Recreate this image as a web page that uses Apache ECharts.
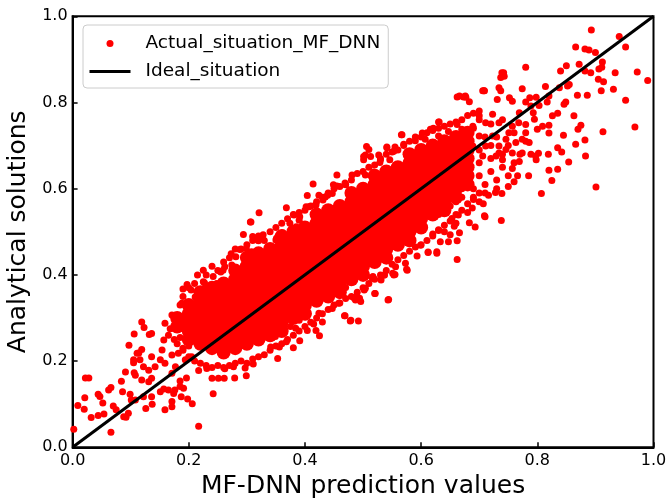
<!DOCTYPE html>
<html><head><meta charset="utf-8">
<script src="https://cdn.jsdelivr.net/npm/echarts@6/dist/echarts.min.js"></script>
<style>html,body{margin:0;padding:0;background:#fff}#c{width:668px;height:500px}</style>
</head><body><div id="c"></div>
<script>
// ---- data ----
const tickValues = [0.0, 0.2, 0.4, 0.6, 0.8, 1.0];
const idealX = [0, 1];
const idealY = [0, 1];

// densest (solid) part of the cloud, column x -> y values
const denseX = [0.18,0.20,0.22,0.24,0.26,0.28,0.30,0.32,0.34,0.36,0.38,0.40,0.42,0.44,0.46,0.48,0.50,0.52,0.54,0.56,0.58,0.60,0.62,0.64,0.66,0.68];
const denseY = [
 [0.28,0.30],
 [0.25,0.27,0.29,0.31,0.33],
 [0.24,0.26,0.28,0.30,0.32,0.34,0.36],
 [0.23,0.25,0.27,0.29,0.31,0.33,0.35,0.37],
 [0.22,0.24,0.26,0.28,0.30,0.32,0.34,0.36,0.38],
 [0.23,0.25,0.27,0.29,0.31,0.33,0.35,0.37,0.39,0.41],
 [0.24,0.26,0.28,0.30,0.32,0.34,0.36,0.38,0.40,0.42,0.44],
 [0.25,0.27,0.29,0.31,0.33,0.35,0.37,0.39,0.41,0.43,0.45],
 [0.26,0.28,0.30,0.32,0.34,0.36,0.38,0.40,0.42,0.44,0.46],
 [0.27,0.29,0.31,0.33,0.35,0.37,0.39,0.41,0.43,0.45,0.47,0.49],
 [0.30,0.32,0.34,0.36,0.38,0.40,0.42,0.44,0.46,0.48,0.50],
 [0.31,0.33,0.35,0.37,0.39,0.41,0.43,0.45,0.47,0.49,0.51],
 [0.34,0.36,0.38,0.40,0.42,0.44,0.46,0.48,0.50,0.52,0.54],
 [0.35,0.37,0.39,0.41,0.43,0.45,0.47,0.49,0.51,0.53,0.55],
 [0.36,0.38,0.40,0.42,0.44,0.46,0.48,0.50,0.52,0.54,0.56],
 [0.39,0.41,0.43,0.45,0.47,0.49,0.51,0.53,0.55,0.57,0.59],
 [0.40,0.42,0.44,0.46,0.48,0.50,0.52,0.54,0.56,0.58,0.60],
 [0.43,0.45,0.47,0.49,0.51,0.53,0.55,0.57,0.59,0.61,0.63],
 [0.44,0.46,0.48,0.50,0.52,0.54,0.56,0.58,0.60,0.62,0.64],
 [0.47,0.49,0.51,0.53,0.55,0.57,0.59,0.61,0.63,0.65],
 [0.48,0.50,0.52,0.54,0.56,0.58,0.60,0.62,0.64,0.66,0.68],
 [0.51,0.53,0.55,0.57,0.59,0.61,0.63,0.65,0.67,0.69],
 [0.54,0.56,0.58,0.60,0.62,0.64,0.66,0.68,0.70],
 [0.55,0.57,0.59,0.61,0.63,0.65,0.67,0.69,0.71],
 [0.58,0.60,0.62,0.64,0.66,0.68,0.70,0.72],
 [0.61,0.63,0.65,0.67,0.69,0.71,0.73]
];

const upperFringe = [[0.19,0.35],[0.20,0.37],[0.21,0.38],[0.215,0.40],[0.23,0.40],[0.24,0.42],[0.25,0.41],[0.26,0.43],[0.27,0.44],[0.28,0.46],[0.29,0.46],[0.30,0.47],[0.31,0.48],[0.32,0.49],[0.33,0.48],[0.34,0.50],[0.35,0.51],[0.36,0.52],[0.37,0.53],[0.38,0.54],[0.39,0.545],[0.40,0.55],[0.41,0.56],[0.42,0.57],[0.43,0.58],[0.44,0.59],[0.45,0.60],[0.46,0.605],[0.47,0.61],[0.48,0.62],[0.49,0.635],[0.50,0.64],[0.51,0.65],[0.52,0.655],[0.53,0.67],[0.54,0.68],[0.55,0.685],[0.56,0.69],[0.57,0.70],[0.58,0.71],[0.59,0.72],[0.60,0.72],[0.61,0.73],[0.62,0.735],[0.63,0.74],[0.64,0.745],[0.65,0.75],[0.66,0.755],[0.67,0.76],[0.68,0.77],[0.69,0.775],[0.70,0.78]];
const lowerFringe = [[0.19,0.23],[0.20,0.21],[0.21,0.20],[0.22,0.195],[0.23,0.19],[0.24,0.185],[0.25,0.19],[0.26,0.185],[0.27,0.19],[0.28,0.195],[0.29,0.20],[0.30,0.195],[0.31,0.205],[0.32,0.21],[0.33,0.215],[0.34,0.225],[0.35,0.235],[0.36,0.24],[0.37,0.25],[0.38,0.26],[0.39,0.27],[0.40,0.28],[0.41,0.29],[0.42,0.30],[0.43,0.31],[0.44,0.32],[0.45,0.33],[0.46,0.335],[0.47,0.345],[0.48,0.35],[0.49,0.36],[0.50,0.37],[0.51,0.38],[0.52,0.39],[0.53,0.40],[0.54,0.41],[0.55,0.425],[0.56,0.435],[0.57,0.445],[0.58,0.455],[0.59,0.465],[0.60,0.47],[0.61,0.48],[0.62,0.495],[0.63,0.505],[0.64,0.515],[0.65,0.525],[0.66,0.54],[0.67,0.55],[0.68,0.565],[0.69,0.575],[0.70,0.59]];

const lowLeft = [[0.002,0.042],[0.009,0.097],[0.021,0.115],[0.020,0.088],[0.022,0.161],[0.028,0.161],[0.032,0.069],[0.044,0.123],[0.047,0.118],[0.052,0.103],[0.044,0.074],[0.054,0.077],[0.062,0.133],[0.066,0.139],[0.066,0.035],[0.070,0.096],[0.075,0.087],[0.084,0.153],[0.086,0.129],[0.088,0.071],[0.092,0.070],[0.096,0.079],[0.099,0.123],[0.091,0.175],[0.097,0.237],[0.106,0.263],[0.119,0.291],[0.123,0.278],[0.132,0.262],[0.106,0.173],[0.108,0.167],[0.105,0.203],[0.105,0.196],[0.114,0.219],[0.119,0.227],[0.101,0.110],[0.108,0.110],[0.119,0.156],[0.131,0.152],[0.136,0.160],[0.126,0.090],[0.137,0.100],[0.151,0.129],[0.157,0.135],[0.159,0.087],[0.171,0.106],[0.171,0.094],[0.174,0.125],[0.187,0.117],[0.185,0.141],[0.191,0.137],[0.198,0.112],[0.206,0.101],[0.217,0.049],[0.242,0.124],[0.240,0.160],[0.251,0.160],[0.261,0.160],[0.279,0.161],[0.299,0.166],[0.297,0.184],[0.311,0.193],[0.262,0.182],[0.277,0.187],[0.217,0.178],[0.231,0.183],[0.159,0.288],[0.171,0.307],[0.185,0.330],[0.136,0.264],[0.165,0.133],[0.176,0.133],[0.136,0.117],[0.122,0.117],[0.185,0.154],[0.196,0.161],[0.157,0.249],[0.154,0.226],[0.136,0.210],[0.142,0.187],[0.122,0.187],[0.131,0.179],[0.116,0.203],[0.111,0.218],[0.151,0.203],[0.159,0.195],[0.171,0.172],[0.171,0.214],[0.182,0.218],[0.177,0.187],[0.194,0.203],[0.205,0.210],[0.165,0.26],[0.175,0.25],[0.18,0.24],[0.168,0.275],[0.185,0.255],[0.19,0.225],[0.20,0.235]];

const upperLeftEdge = [[0.321,0.544],[0.307,0.523],[0.294,0.494],[0.311,0.487],[0.320,0.479],[0.327,0.490],[0.273,0.449],[0.288,0.459],[0.299,0.461],[0.308,0.454],[0.281,0.442],[0.297,0.438],[0.225,0.411],[0.255,0.407],[0.262,0.419],[0.274,0.423],[0.190,0.367],[0.197,0.378],[0.204,0.365],[0.227,0.382],[0.237,0.373],[0.248,0.380],[0.188,0.334],[0.211,0.349],[0.222,0.357],[0.231,0.348],[0.306,0.523],[0.310,0.489],[0.319,0.481],[0.328,0.493],[0.259,0.411],[0.242,0.396],[0.230,0.373],[0.225,0.384],[0.339,0.465],[0.351,0.485],[0.362,0.497],[0.374,0.520],[0.385,0.512],[0.391,0.535],[0.402,0.558],[0.419,0.562],[0.431,0.574],[0.439,0.585]];

const upperMidEdge = [[0.501,0.667],[0.530,0.667],[0.455,0.632],[0.481,0.632],[0.414,0.611],[0.404,0.584],[0.368,0.556],[0.455,0.606],[0.470,0.609],[0.504,0.632],[0.518,0.639],[0.424,0.585],[0.435,0.581],[0.447,0.589],[0.407,0.558],[0.418,0.562],[0.381,0.539],[0.390,0.527],[0.350,0.481],[0.370,0.485],[0.541,0.697],[0.555,0.697],[0.506,0.698],[0.501,0.675],[0.513,0.675],[0.469,0.613],[0.449,0.609],[0.529,0.661],[0.546,0.667],[0.566,0.725],[0.621,0.740],[0.631,0.755]];

const lowerEdge = [[0.662,0.436],[0.662,0.479],[0.647,0.477],[0.650,0.493],[0.657,0.513],[0.653,0.531],[0.664,0.539],[0.630,0.503],[0.633,0.477],[0.612,0.453],[0.627,0.454],[0.593,0.444],[0.599,0.469],[0.573,0.427],[0.576,0.411],[0.556,0.419],[0.553,0.400],[0.536,0.400],[0.516,0.392],[0.544,0.343],[0.521,0.357],[0.504,0.369],[0.487,0.348],[0.470,0.371],[0.543,0.342],[0.496,0.338],[0.487,0.342],[0.469,0.305],[0.478,0.293],[0.492,0.293],[0.430,0.291],[0.415,0.286],[0.404,0.271],[0.419,0.271],[0.425,0.259],[0.391,0.247],[0.380,0.231],[0.368,0.245],[0.356,0.233],[0.353,0.206],[0.341,0.233],[0.349,0.257],[0.384,0.276],[0.375,0.280],[0.390,0.295],[0.401,0.303],[0.424,0.311],[0.447,0.322],[0.458,0.334],[0.575,0.413],[0.555,0.401],[0.612,0.452],[0.627,0.450],[0.520,0.357],[0.502,0.365],[0.485,0.346],[0.468,0.305],[0.479,0.295],[0.494,0.346],[0.531,0.388],[0.537,0.400],[0.551,0.404],[0.517,0.396]];

const upperRight = [[0.901,0.604],[0.854,0.662],[0.820,0.643],[0.835,0.645],[0.825,0.619],[0.807,0.589],[0.785,0.630],[0.798,0.667],[0.738,0.526],[0.709,0.537],[0.693,0.511],[0.683,0.521],[0.666,0.498],[0.739,0.589],[0.728,0.591],[0.716,0.585],[0.707,0.565],[0.688,0.555],[0.750,0.605],[0.760,0.616],[0.766,0.630],[0.757,0.647],[0.769,0.663],[0.740,0.667],
[0.893,0.968],[0.941,0.953],[0.952,0.929],[0.866,0.929],[0.882,0.924],[0.889,0.922],[0.900,0.916],[0.912,0.894],[0.911,0.882],[0.906,0.878],[0.872,0.889],[0.850,0.885],[0.840,0.873],[0.882,0.873],[0.892,0.869],[0.934,0.869],[0.972,0.871],[0.990,0.851],[0.905,0.854],[0.914,0.848],[0.931,0.831],[0.910,0.827],[0.952,0.805],[0.968,0.743],[0.913,0.732],[0.869,0.817],[0.886,0.817],[0.855,0.842],[0.852,0.838],[0.838,0.834],[0.814,0.837],[0.780,0.882],[0.739,0.869],[0.743,0.861],[0.737,0.858],[0.709,0.827],[0.734,0.834],[0.737,0.827],[0.774,0.832],[0.676,0.815],[0.666,0.815],[0.820,0.815],[0.849,0.801],[0.846,0.796],[0.817,0.801],[0.835,0.775],[0.826,0.769],[0.863,0.769],[0.875,0.747],[0.870,0.738],[0.820,0.747],[0.820,0.729],[0.845,0.724],[0.866,0.703],[0.882,0.713],[0.883,0.676],[0.842,0.685],[0.835,0.695],[0.819,0.680],[0.802,0.682],[0.789,0.680],
[0.780,0.801],[0.787,0.811],[0.798,0.812],[0.789,0.792],[0.803,0.793],[0.793,0.776],[0.795,0.761],[0.769,0.776],[0.768,0.753],[0.757,0.745],[0.780,0.749],[0.751,0.730],[0.780,0.730],[0.800,0.738],[0.809,0.745],[0.774,0.715],[0.786,0.707],[0.763,0.707],[0.746,0.691],[0.734,0.683],[0.757,0.683],[0.774,0.683],[0.797,0.676],
[0.706,0.827],[0.731,0.807],[0.752,0.811],[0.757,0.803],[0.723,0.773],[0.700,0.769],[0.711,0.753],[0.734,0.753],[0.689,0.745],[0.677,0.722],[0.700,0.722],[0.723,0.722],[0.746,0.715],[0.666,0.707],[0.689,0.699],[0.711,0.699],[0.734,0.699],[0.683,0.676],[0.706,0.676],[0.729,0.676],
[0.662,0.813],[0.673,0.813],[0.630,0.755],[0.616,0.738],[0.602,0.729],[0.567,0.725],[0.570,0.703],[0.541,0.695],[0.510,0.691],[0.504,0.678],[0.527,0.678],[0.553,0.687],[0.590,0.711],[0.607,0.715],[0.630,0.722],[0.647,0.733],[0.662,0.749],[0.670,0.738],
[0.677,0.812],[0.683,0.802],[0.708,0.827],[0.742,0.869],[0.741,0.864],[0.710,0.535]];

const midRight = [[0.67,0.60],[0.68,0.62],[0.69,0.60],[0.70,0.63],[0.71,0.61],[0.72,0.64],[0.73,0.62],[0.70,0.66],[0.72,0.67],[0.74,0.65],[0.68,0.65],[0.67,0.58],[0.69,0.58],[0.71,0.59],[0.73,0.60],[0.75,0.63],[0.76,0.66],[0.74,0.68],[0.72,0.70],[0.70,0.69],[0.68,0.70],[0.71,0.72],[0.73,0.72],[0.75,0.70],[0.77,0.68],[0.76,0.73],[0.78,0.71],[0.69,0.74],[0.72,0.75],[0.74,0.76],[0.67,0.72],[0.70,0.76],[0.66,0.57],[0.68,0.545],[0.70,0.57],[0.65,0.56],[0.64,0.55],[0.63,0.54],[0.66,0.52],[0.64,0.50],[0.62,0.49]];

// ---- build series data ----
const corePoints = [];
denseX.forEach((x, i) => denseY[i].forEach(y => corePoints.push([x, y])));
const scatterPoints = [].concat(upperFringe, lowerFringe, lowLeft, upperLeftEdge, upperMidEdge, lowerEdge, upperRight, midRight);
const idealLine = idealX.map((x, i) => [x, idealY[i]]);

const FONT = 'DejaVu Sans';
const chart = echarts.init(document.getElementById('c'), null, {renderer: 'canvas'});
chart.setOption({
  animation: false,
  backgroundColor: '#ffffff',
  grid: {left: 72.6, right: 14.5, top: 16.3, bottom: 52.7, containLabel: false, outerBoundsMode: 'none',
         show: true, borderColor: '#000', borderWidth: 2, backgroundColor: 'transparent'},
  legend: {
    left: 83, top: 25, orient: 'vertical',
    itemWidth: 41, itemHeight: 7, itemGap: 9,
    padding: [9, 8, 7, 5],
    backgroundColor: 'rgba(255,255,255,0.8)', borderColor: '#cccccc', borderWidth: 1, borderRadius: 4,
    textStyle: {fontFamily: FONT, fontSize: 18.5, color: '#000', padding: [0, 0, 0, 10]},
    data: [{name: 'Actual_situation_MF_DNN', icon: 'circle'},
           {name: 'Ideal_situation', itemStyle: {opacity: 0}, lineStyle: {opacity: 1, width: 3, color: '#000'}}]
  },
  xAxis: {
    type: 'value', min: tickValues[0], max: tickValues[tickValues.length - 1], interval: 0.2,
    name: 'MF-DNN prediction values', nameLocation: 'middle', nameGap: 25,
    nameTextStyle: {fontFamily: FONT, fontSize: 25, color: '#000'},
    axisLine: {show: true, onZero: false, lineStyle: {color: '#000', width: 2}},
    axisTick: {show: true, inside: true, length: 5, lineStyle: {color: '#000', width: 1.5}},
    axisLabel: {margin: 6, fontFamily: FONT, fontSize: 16, color: '#000', formatter: v => v.toFixed(1)},
    splitLine: {show: false}
  },
  yAxis: {
    type: 'value', min: tickValues[0], max: tickValues[tickValues.length - 1], interval: 0.2,
    name: 'Analytical solutions', nameLocation: 'middle', nameGap: 39, nameRotate: 90,
    nameTextStyle: {fontFamily: FONT, fontSize: 25, color: '#000'},
    axisLine: {show: true, onZero: false, lineStyle: {color: '#000', width: 2}},
    axisTick: {show: true, inside: true, length: 5, lineStyle: {color: '#000', width: 1.5}},
    axisLabel: {margin: 5, fontFamily: FONT, fontSize: 16, color: '#000', formatter: v => v.toFixed(1)},
    splitLine: {show: false}
  },
  series: [
    {name: 'Actual_situation_MF_DNN', type: 'scatter', symbol: 'circle', symbolSize: 7, itemStyle: {color: '#ff0000', opacity: 1}, data: scatterPoints, z: 2, silent: true},
    {name: 'Actual_situation_MF_DNN', type: 'scatter', symbol: 'circle', symbolSize: 14, itemStyle: {color: '#ff0000', opacity: 1}, data: corePoints, z: 2, silent: true},
    {name: 'Ideal_situation', type: 'line', symbol: 'none', lineStyle: {color: '#000', width: 3}, itemStyle: {color: '#000'}, data: idealLine, z: 3, silent: true}
  ]
});
</script></body></html>
